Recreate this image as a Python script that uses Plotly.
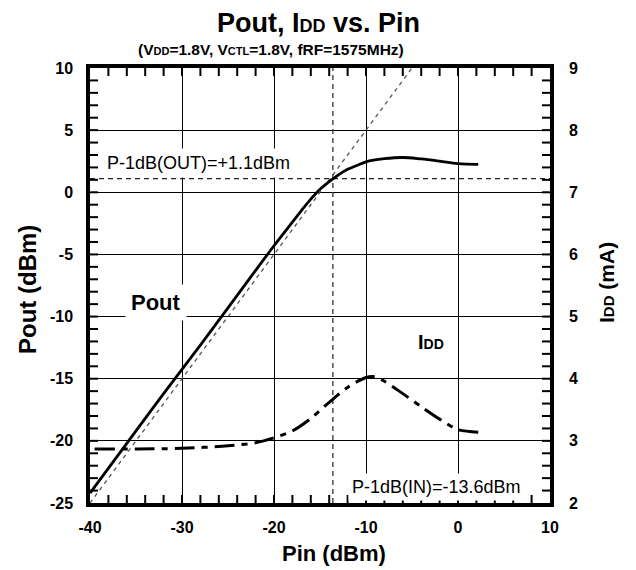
import plotly.graph_objects as go

# ---- data ----
pin_pout = [-40, -36, -32, -28, -24, -20, -18, -17, -16, -15, -14, -13, -12, -11, -10, -8, -6, -4, -2, 0, 2.2]
pout = [-24.2, -20.2, -16.2, -12.3, -8.3, -4.3, -2.4, -1.45, -0.55, 0.25, 0.85, 1.4, 1.85, 2.15, 2.45, 2.7, 2.8, 2.68, 2.5, 2.3, 2.25]

pin_idd = [-39.5, -35, -30, -25, -22, -20, -18, -16, -14, -12, -10, -9, -8, -6, -4, -2, 0, 2.2]
idd = [2.87, 2.87, 2.88, 2.92, 2.97, 3.05, 3.16, 3.36, 3.62, 3.86, 4.02, 4.03, 3.96, 3.76, 3.55, 3.35, 3.18, 3.14]

ideal_pin = [-40, -5]
ideal_pout = [-25, 10]

p1db_in = -13.6
p1db_out = 1.1

x_ticks = [-40, -30, -20, -10, 0, 10]
y_ticks = [-25, -20, -15, -10, -5, 0, 5, 10]
y2_ticks = [2, 3, 4, 5, 6, 7, 8, 9]
x_minor_step, y_minor_step, y2_minor_step = 2, 1, 0.2

# ---- layout geometry (pixels) ----
W, H = 636, 570
L, R, T, B = 90, 550, 68, 503
FONT = "Liberation Sans, Arial, sans-serif"
TICK = 8  # minor tick length in px


def px(xp):
    return (xp - L) / (R - L)


def py(yp):
    return (B - yp) / (B - T)


def steps(lo, hi, step):
    n = int(round((hi - lo) / step))
    return [round(lo + i * step, 6) for i in range(n + 1)]


fig = go.Figure()

# ideal (extrapolated) line
fig.add_trace(go.Scatter(x=ideal_pin, y=ideal_pout, mode="lines",
                         line=dict(color="#555", width=1.3, dash="4px,4px"),
                         hoverinfo="skip", showlegend=False))
# P-1dB markers
fig.add_trace(go.Scatter(x=[p1db_in, p1db_in], y=[y_ticks[0], y_ticks[-1]], mode="lines",
                         line=dict(color="#333", width=1.3, dash="5px,4px"),
                         hoverinfo="skip", showlegend=False))
fig.add_trace(go.Scatter(x=[x_ticks[0], x_ticks[-1]], y=[p1db_out, p1db_out], mode="lines",
                         line=dict(color="#222", width=1.2, dash="5px,4px"),
                         hoverinfo="skip", showlegend=False))
# Pout
fig.add_trace(go.Scatter(x=pin_pout, y=pout, mode="lines", name="Pout",
                         line=dict(color="black", width=2.8, shape="spline", smoothing=1.0),
                         showlegend=False))
# IDD on right axis
fig.add_trace(go.Scatter(x=pin_idd, y=idd, mode="lines", name="IDD", yaxis="y2",
                         line=dict(color="black", width=3, dash="20px,7px,6px,7px",
                                   shape="spline", smoothing=0.8),
                         showlegend=False))

tickfont = dict(family=FONT, size=16, color="black", weight="bold")


def labels(ticks):
    return [str(v) for v in ticks]


main_common = dict(showline=True, linecolor="black", linewidth=3.5, ticks="", zeroline=False,
                   tickfont=tickfont, tickmode="array")

fig.update_layout(
    width=W, height=H,
    margin=dict(l=L, r=W - R, t=T, b=H - B, pad=0),
    paper_bgcolor="white", plot_bgcolor="white",
    xaxis=dict(**main_common, range=[x_ticks[0], x_ticks[-1]], tickvals=x_ticks, ticktext=labels(x_ticks),
               showgrid=True, gridcolor="black", gridwidth=1, mirror=True, ticklabelstandoff=7),
    yaxis=dict(**main_common, range=[y_ticks[0], y_ticks[-1]], tickvals=y_ticks, ticktext=labels(y_ticks),
               showgrid=True, gridcolor="black", gridwidth=1, mirror=True, ticklabelstandoff=10),
    yaxis2=dict(**main_common, range=[y2_ticks[0], y2_ticks[-1]], tickvals=y2_ticks, ticktext=labels(y2_ticks),
                overlaying="y", side="right", showgrid=False, ticklabelstandoff=12),
)

# minor tick marks along the frame (inside), placed through the axes' own scales
tick_line = dict(color="black", width=2)
dx = TICK / (R - L)
dy = TICK / (B - T)
shapes = []
for v in steps(x_ticks[0], x_ticks[-1], x_minor_step)[1:-1]:
    shapes.append(dict(type="line", xref="x", yref="paper", x0=v, x1=v, y0=0, y1=dy, line=tick_line, layer="above"))
    shapes.append(dict(type="line", xref="x", yref="paper", x0=v, x1=v, y0=1, y1=1 - dy, line=tick_line, layer="above"))
for v in steps(y_ticks[0], y_ticks[-1], y_minor_step)[1:-1]:
    shapes.append(dict(type="line", xref="paper", yref="y", x0=0, x1=dx, y0=v, y1=v, line=tick_line, layer="above"))
for v in steps(y2_ticks[0], y2_ticks[-1], y2_minor_step)[1:-1]:
    shapes.append(dict(type="line", xref="paper", yref="y2", x0=1, x1=1 - dx, y0=v, y1=v, line=tick_line, layer="above"))
fig.update_layout(shapes=shapes)

sub = "font-size:{}px"
ann = [
    dict(text="Pout, I<span style='%s'>DD</span> vs. Pin" % sub.format(18),
         x=px(318), y=py(23), font=dict(size=27, weight="bold")),
    dict(text="(V<span style='{0}'>DD</span>=1.8V, V<span style='{0}'>CTL</span>=1.8V, fRF=1575MHz)".format(sub.format(11)),
         x=px(271), y=py(50), font=dict(size=15.5, weight="bold")),
    dict(text="Pin (dBm)", x=px(334), y=py(553), font=dict(size=22, weight="bold")),
    dict(text="Pout (dBm)", x=px(27), y=py(290), textangle=-90, font=dict(size=24, weight="bold")),
    dict(text="I<span style='%s'>DD</span> (mA)" % sub.format(15), x=px(606), y=py(283), textangle=-90,
         font=dict(size=21, weight="bold")),
    dict(text="Pout", x=px(156), y=py(302), font=dict(size=22, weight="bold"),
         bgcolor="white", borderpad=5),
    dict(text="I<span style='%s'>DD</span>" % sub.format(14), x=px(431), y=py(342),
         font=dict(size=20, weight="bold"), bgcolor="white", borderpad=3),
    dict(text="P-1dB(OUT)=+1.1dBm", x=px(198), y=py(163), font=dict(size=18),
         bgcolor="white", borderpad=4),
    dict(text="P-1dB(IN)=-13.6dBm", x=px(436), y=py(487), font=dict(size=18),
         bgcolor="white", borderpad=3),
]
for a in ann:
    a.update(xref="paper", yref="paper", showarrow=False, xanchor="center", yanchor="middle")
    a["font"] = dict(family=FONT, color="black", **a["font"])
fig.update_layout(annotations=ann)

fig.write_html("out.html")
